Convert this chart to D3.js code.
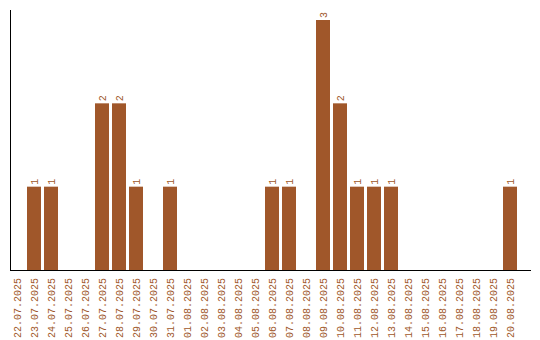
<body style="margin:0;background:#fff">
<script src="https://d3js.org/d3.v7.min.js"></script>
<script>
// days and counts
var days = ["22.07.2025","23.07.2025","24.07.2025","25.07.2025","26.07.2025","27.07.2025","28.07.2025","29.07.2025","30.07.2025","31.07.2025",
  "01.08.2025","02.08.2025","03.08.2025","04.08.2025","05.08.2025","06.08.2025","07.08.2025","08.08.2025","09.08.2025","10.08.2025",
  "11.08.2025","12.08.2025","13.08.2025","14.08.2025","15.08.2025","16.08.2025","17.08.2025","18.08.2025","19.08.2025","20.08.2025"];
var counts = [0,1,1,0,0,2,2,1,0,1, 0,0,0,0,0,1,1,0,3,2, 1,1,1,0,0,0,0,0,0,1];

var width = 540, height = 340;
var color = "#a0572a";
var font = "Liberation Mono";

var svg = d3.select("body").append("svg").attr("width", width).attr("height", height)
  .style("font-family", font).style("font-size", "10px");

// band width 14 + 3 gap per slot
var x = d3.scaleBand().domain(days).range([10, 10 + 17 * days.length - 3]).paddingInner(3/17).paddingOuter(0).align(0);
var y = d3.scaleLinear().domain([0, 3]).range([270, 20]);

// bars
svg.selectAll("rect.bar").data(days).enter().append("rect")
  .attr("x", function(d){ return x(d); })
  .attr("y", function(d, i){ return y(counts[i]); })
  .attr("width", x.bandwidth())
  .attr("height", function(d, i){ return y(0) - y(counts[i]); })
  .attr("fill", color);

// value labels
svg.selectAll("text.val").data(days.filter(function(d, i){ return counts[i] > 0; })).enter().append("text")
  .attr("transform", function(d){
    var i = days.indexOf(d);
    return "translate(" + (x(d) + x.bandwidth() / 2 + 3.5) + "," + (y(counts[i]) - 2) + ") rotate(-90)";
  })
  .attr("fill", color)
  .text(function(d){ return counts[days.indexOf(d)]; });

// axes
var xAxis = svg.append("g").attr("transform", "translate(0,270)")
  .call(d3.axisBottom(x).tickSize(0).tickPadding(0));
xAxis.select(".domain").remove();
xAxis.selectAll("text")
  .attr("fill", color)
  .style("font-family", font).style("font-size", "10px")
  .attr("text-anchor", "end")
  .attr("dy", null).attr("y", 0).attr("x", 0)
  .attr("transform", "translate(3.5,8) rotate(-90)");

svg.append("line").attr("x1", 10.5).attr("x2", 10.5).attr("y1", 10).attr("y2", 271).attr("stroke", "#000");
svg.append("line").attr("x1", 10).attr("x2", 531).attr("y1", 270.5).attr("y2", 270.5).attr("stroke", "#000");
</script>
</body>
